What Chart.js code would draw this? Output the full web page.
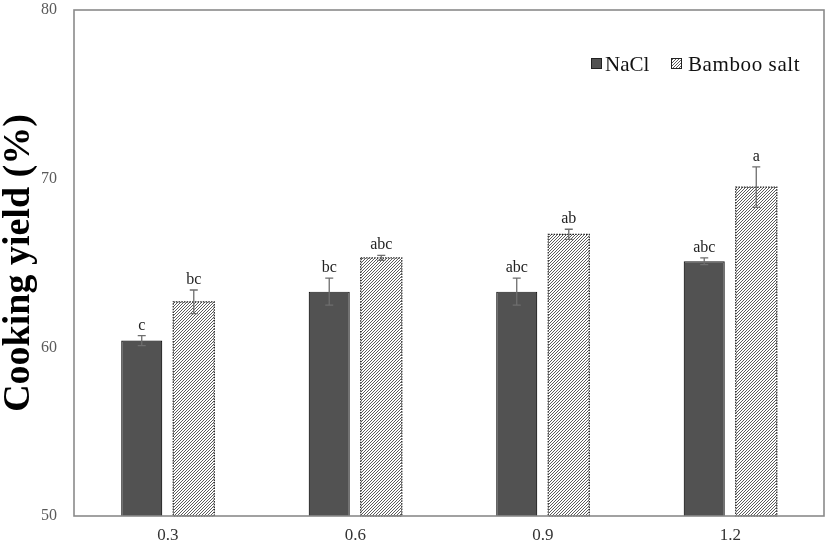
<!DOCTYPE html>
<html>
<head>
<meta charset="utf-8">
<script src="https://cdn.jsdelivr.net/npm/chart.js@4/dist/chart.umd.min.js"></script>
<style>
  html, body { margin: 0; padding: 0; background: #fff; }
  #wrap { width: 827px; height: 546px; position: relative; }
</style>
</head>
<body>
<div id="wrap"><canvas id="c"></canvas></div>
<script>
const categories = ['0.3', '0.6', '0.9', '1.2'];
const naclValues = [60.4, 63.3, 63.3, 65.1];
const naclErrors = [0.3, 0.8, 0.8, 0.2];
const naclLetters = ['c', 'bc', 'abc', 'abc'];
const bambooValues = [62.7, 65.3, 66.7, 69.5];
const bambooErrors = [0.7, 0.15, 0.3, 1.2];
const bambooLetters = ['bc', 'abc', 'ab', 'a'];
const yTicks = [50, 60, 70, 80];

const SERIF = "'Liberation Serif', 'Times New Roman', serif";

function makeHatch() {
  const t = document.createElement('canvas');
  t.width = 3; t.height = 3;
  const g = t.getContext('2d');
  g.fillStyle = '#ffffff';
  g.fillRect(0, 0, 3, 3);
  g.strokeStyle = '#4a4a4a';
  g.lineWidth = 0.9;
  g.beginPath();
  g.moveTo(-1, 4); g.lineTo(4, -1);
  g.moveTo(-1, 1); g.lineTo(1, -1);
  g.moveTo(2, 4); g.lineTo(4, 2);
  g.stroke();
  return document.getElementById('c').getContext('2d').createPattern(t, 'repeat');
}
const hatch = makeHatch();

const errorsByDataset = [naclErrors, bambooErrors];
const lettersByDataset = [naclLetters, bambooLetters];

const extras = {
  id: 'extras',
  afterDatasetsDraw(chart) {
    const ctx = chart.ctx;
    const y = chart.scales.y;
    const a = chart.chartArea;
    ctx.save();
    chart.data.datasets.forEach((ds, di) => {
      const meta = chart.getDatasetMeta(di);
      meta.data.forEach((bar, i) => {
        const v = ds.data[i];
        const e = errorsByDataset[di][i];
        const x = bar.x;
        if (di === 1) {
          const w = bar.width;
          ctx.strokeStyle = '#222';
          ctx.lineWidth = 1.2;
          ctx.setLineDash([1.5, 1.2]);
          ctx.strokeRect(x - w / 2, bar.y, w, a.bottom - bar.y);
          ctx.setLineDash([]);
        }
        const yTop = y.getPixelForValue(v + e);
        const yBot = y.getPixelForValue(v - e);
        ctx.strokeStyle = '#6e6e6e';
        ctx.lineWidth = 1.3;
        ctx.beginPath();
        ctx.moveTo(x, yTop); ctx.lineTo(x, yBot);
        ctx.moveTo(x - 4, yTop); ctx.lineTo(x + 4, yTop);
        ctx.moveTo(x - 4, yBot); ctx.lineTo(x + 4, yBot);
        ctx.stroke();
        ctx.fillStyle = '#222';
        ctx.font = '16px ' + SERIF;
        ctx.textAlign = 'center';
        ctx.textBaseline = 'alphabetic';
        ctx.fillText(lettersByDataset[di][i], x, yTop - 6);
      });
    });
    ctx.strokeStyle = '#8a8a8a';
    ctx.lineWidth = 1.6;
    ctx.strokeRect(a.left, a.top, a.right - a.left, a.bottom - a.top);
    const items = [
      { x: 591, tx: 605 },
      { x: 671, tx: 688 }
    ];
    ctx.font = '21px ' + SERIF;
    ctx.textAlign = 'left';
    ctx.textBaseline = 'alphabetic';
    chart.data.datasets.forEach((ds, di) => {
      const it = items[di];
      ctx.fillStyle = ds.backgroundColor;
      ctx.fillRect(it.x, 58, 11, 11);
      ctx.strokeStyle = '#222';
      ctx.lineWidth = 1;
      ctx.strokeRect(it.x + 0.5, 58.5, 10, 10);
      ctx.fillStyle = '#111';
      if (di === 1) {
        ctx.letterSpacing = '0.6px';
      }
      ctx.fillText(ds.label, it.tx, 71);
      ctx.letterSpacing = '0px';
    });
    ctx.restore();
  }
};

new Chart(document.getElementById('c'), {
  type: 'bar',
  data: {
    labels: categories,
    datasets: [
      {
        label: 'NaCl',
        data: naclValues,
        backgroundColor: '#525252',
        borderColor: '#1a1a1a',
        borderWidth: 1.2,
        categoryPercentage: 0.555,
        barPercentage: 0.79
      },
      {
        label: 'Bamboo salt',
        data: bambooValues,
        backgroundColor: hatch,
        borderWidth: 0,
        categoryPercentage: 0.555,
        barPercentage: 0.79
      }
    ]
  },
  options: {
    responsive: true,
    maintainAspectRatio: false,
    animation: false,
    events: [],
    layout: { padding: { top: 10, right: 3, left: 0, bottom: 0 } },
    plugins: {
      legend: { display: false },
      tooltip: { enabled: false }
    },
    scales: {
      x: {
        grid: { display: false, drawTicks: false },
        border: { display: false },
        ticks: { color: '#333', font: { family: SERIF, size: 17 }, padding: 9 },
        afterFit(s) { s.height = 30; s.paddingLeft = 0; s.paddingRight = 0; }
      },
      y: {
        min: 50, max: 80,
        afterBuildTicks(s) { s.ticks = yTicks.map(v => ({ value: v })); },
        grid: { display: false, drawTicks: false },
        border: { display: false },
        ticks: { color: '#5a5a5a', font: { family: SERIF, size: 16 }, padding: 17 },
        title: {
          display: true,
          text: 'Cooking yield (%)',
          color: '#000',
          font: { family: SERIF, size: 38, weight: 'bold', lineHeight: 1.0 },
          padding: { top: 0, bottom: 0 }
        },
        afterFit(s) { s.width = 74; s.paddingTop = 0; s.paddingBottom = 0; }
      }
    }
  },
  plugins: [extras]
});
</script>
</body>
</html>
